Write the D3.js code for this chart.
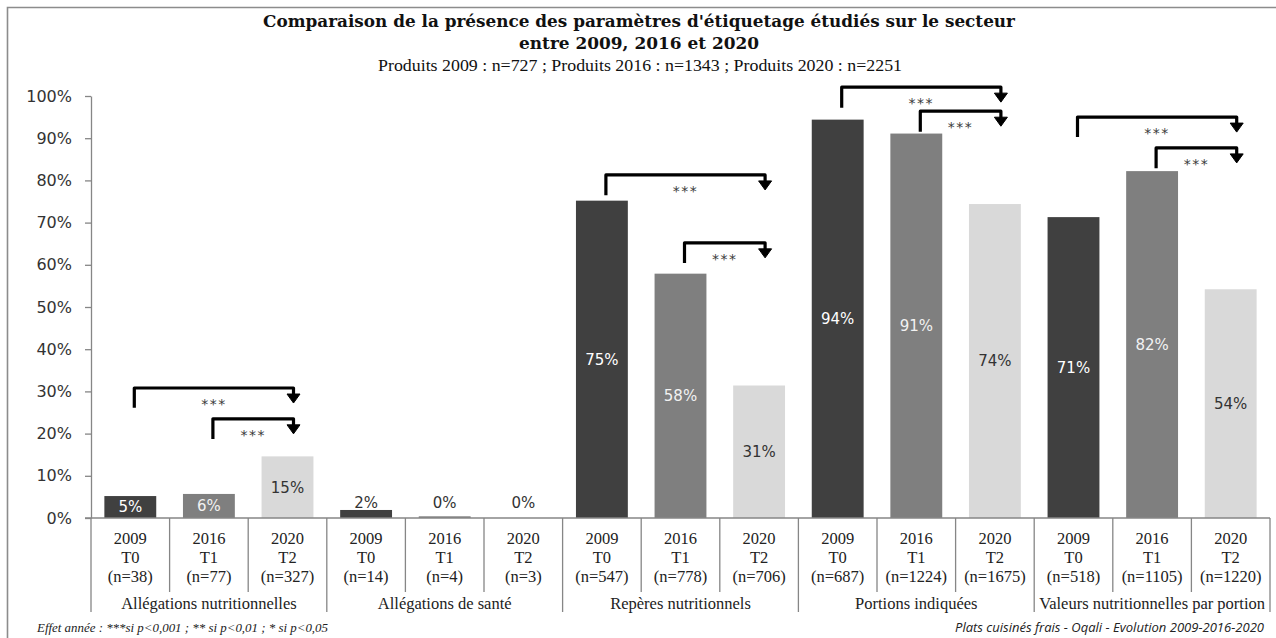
<!DOCTYPE html>
<html>
<head>
<meta charset="utf-8">
<script src="https://cdn.jsdelivr.net/npm/d3@7"></script>
<style>
  html, body { margin: 0; padding: 0; background: #fff; }
  svg { display: block; }
</style>
</head>
<body>
<svg id="chart" width="1276" height="638"></svg>
<script>
// ---------------- DATA ----------------
const groups = ["Allégations nutritionnelles", "Allégations de santé", "Repères nutritionnels", "Portions indiquées", "Valeurs nutritionnelles par portion"];
const years = ["2009", "2016", "2020"];
const periods = ["T0", "T1", "T2"];
const values2009 = [5.2, 1.9, 75.2, 94.4, 71.3];
const values2016 = [5.7, 0.4, 57.9, 91.1, 82.2];
const values2020 = [14.6, 0.0, 31.4, 74.4, 54.2];
const n2009 = [38, 14, 547, 687, 518];
const n2016 = [77, 4, 778, 1224, 1105];
const n2020 = [327, 3, 706, 1675, 1220];
const yTicks = [0, 10, 20, 30, 40, 50, 60, 70, 80, 90, 100];
// significance brackets: group index, from year index, to year index, level of the top line, level of the start foot (in %)
const bracketGroup = [0, 0, 2, 2, 3, 3, 4, 4];
const bracketFrom  = [0, 1, 0, 1, 0, 1, 0, 1];
const bracketTo    = [2, 2, 2, 2, 2, 2, 2, 2];
const bracketTop   = [30.8, 23.5, 81.3, 65.2, 102.1, 96.4, 95.0, 87.7];
const bracketBase  = [26.1, 18.7, 76.5, 60.4, 97.2, 91.5, 90.3, 82.9];
const bracketLabel = ["***", "***", "***", "***", "***", "***", "***", "***"];
const title1 = "Comparaison de la présence des paramètres d'étiquetage étudiés sur le secteur";
const title2 = "entre 2009, 2016 et 2020";
const subtitle = "Produits 2009 : n=727 ; Produits 2016 : n=1343 ; Produits 2020 : n=2251";
const noteLeft = "Effet année : ***si p<0,001 ; ** si p<0,01 ; * si p<0,05";
const noteRight = "Plats cuisinés frais - Oqali - Evolution 2009-2016-2020";

// ---------------- BUILD ----------------
(function () {
const seriesValues = [values2009, values2016, values2020];
const seriesN = [n2009, n2016, n2020];
const barColors = ["#404040", "#7f7f7f", "#d9d9d9"];
const labelColors = ["#ffffff", "#f2f2f2", "#333333"];

const rows = [];
groups.forEach((g, gi) => {
  years.forEach((yr, si) => {
    rows.push({ id: gi + "-" + si, gi, si, group: g, year: yr, period: periods[si],
      n: seriesN[si][gi], value: seriesValues[si][gi] });
  });
});

const svg = d3.select("#chart");
const serif = "'Liberation Serif', 'DejaVu Serif', serif";
const titleSerif = "'DejaVu Serif', 'Liberation Serif', serif";
const sans = "'DejaVu Sans', 'Liberation Sans', sans-serif";

const pLeft = 91, pRight = 1270, pTop = 96, pBottom = 518;

const y = d3.scaleLinear().domain([0, 100]).range([pBottom, pTop]);
const xCat = d3.scaleBand().domain(rows.map(d => d.id)).range([pLeft, pRight]).padding(0);
const xBar = d3.scaleBand().domain(rows.map(d => d.id)).range([pLeft, pRight]).paddingInner(0.34).paddingOuter(0.17);

// frame
svg.append("path").attr("d", `M7.5,640 V7.5 H1280`).attr("fill", "none").attr("stroke", "#8c8c8c").attr("stroke-width", 1.6);

// titles
svg.append("text").attr("x", 639).attr("y", 27).attr("text-anchor", "middle")
  .attr("font-family", titleSerif).attr("font-weight", "bold").attr("font-size", 16.5).attr("fill", "#111")
  .attr("textLength", 752).attr("lengthAdjust", "spacingAndGlyphs").text(title1);
svg.append("text").attr("x", 639).attr("y", 49).attr("text-anchor", "middle")
  .attr("font-family", titleSerif).attr("font-weight", "bold").attr("font-size", 16.5).attr("fill", "#111")
  .attr("textLength", 240).attr("lengthAdjust", "spacingAndGlyphs").text(title2);
svg.append("text").attr("x", 640).attr("y", 71).attr("text-anchor", "middle")
  .attr("font-family", serif).attr("font-size", 16.5).attr("fill", "#111")
  .attr("textLength", 524).attr("lengthAdjust", "spacingAndGlyphs").text(subtitle);

// y axis
const yAxis = d3.axisLeft(y).tickValues(yTicks).tickFormat(d => d + "%").tickSize(6).tickSizeOuter(0).tickPadding(13);
const gy = svg.append("g").attr("transform", `translate(${pLeft},0)`).call(yAxis);
gy.select(".domain").attr("stroke", "#868686").attr("stroke-width", 1.3);
gy.selectAll(".tick line").attr("stroke", "#868686").attr("stroke-width", 1.3);
gy.selectAll(".tick text").attr("font-family", sans).attr("font-size", 16).attr("fill", "#333");

// bars
svg.append("g").selectAll("rect").data(rows).join("rect")
  .attr("x", d => xBar(d.id)).attr("width", xBar.bandwidth())
  .attr("y", d => y(d.value)).attr("height", d => y(0) - y(d.value))
  .attr("fill", d => barColors[d.si]);

// bar labels
svg.append("g").selectAll("text").data(rows).join("text")
  .attr("x", d => xBar(d.id) + xBar.bandwidth() / 2)
  .attr("y", d => {
    const h = y(0) - y(d.value);
    return h >= 18 ? (y(d.value) + y(0)) / 2 : y(0) - 15;
  })
  .attr("dy", "0.36em").attr("text-anchor", "middle")
  .attr("font-family", sans).attr("font-size", 15)
  .attr("fill", d => (y(0) - y(d.value)) >= 18 ? labelColors[d.si] : "#333")
  .text(d => Math.round(d.value) + "%");

// x axis baseline
svg.append("line").attr("x1", pLeft - 6).attr("x2", pRight).attr("y1", pBottom).attr("y2", pBottom)
  .attr("stroke", "#868686").attr("stroke-width", 1.3);

// category separators
const bounds = d3.range(rows.length + 1);
svg.append("g").selectAll("line").data(bounds).join("line")
  .attr("x1", i => i < rows.length ? xCat(rows[i].id) : pRight)
  .attr("x2", i => i < rows.length ? xCat(rows[i].id) : pRight)
  .attr("y1", pBottom)
  .attr("y2", i => i % 3 === 0 ? 612 : 592)
  .attr("stroke", "#868686").attr("stroke-width", 1.3);

// category labels
const catG = svg.append("g").attr("font-family", serif).attr("font-size", 16.5).attr("fill", "#222").attr("text-anchor", "middle");
rows.forEach(d => {
  const cx = xCat(d.id) + xCat.bandwidth() / 2;
  catG.append("text").attr("x", cx).attr("y", 538).attr("dy", "0.35em").text(d.year);
  catG.append("text").attr("x", cx).attr("y", 557).attr("dy", "0.35em").text(d.period);
  catG.append("text").attr("x", cx).attr("y", 576).attr("dy", "0.35em").text("(n=" + d.n + ")");
});
groups.forEach((g, gi) => {
  const x0 = xCat(gi + "-0"), x1 = xCat(gi + "-2") + xCat.bandwidth();
  catG.append("text").attr("x", (x0 + x1) / 2).attr("y", 603).attr("dy", "0.35em").text(g);
});

// significance brackets
const bg = svg.append("g");
bracketGroup.forEach((gi, k) => {
  const fromId = gi + "-" + bracketFrom[k], toId = gi + "-" + bracketTo[k];
  const xs = xBar(fromId) + xBar.bandwidth() / 2 + 4;
  const xe = xBar(toId) + xBar.bandwidth() / 2 + 6;
  const yt = y(bracketTop[k]), yb = y(bracketBase[k]);
  bg.append("path").attr("d", `M${xs},${yb} V${yt} H${xe} V${yt + 8}`)
    .attr("fill", "none").attr("stroke", "#000").attr("stroke-width", 3.2).attr("stroke-linejoin", "round");
  bg.append("path").attr("d", `M${xe - 6.5},${yt + 6} L${xe + 6.5},${yt + 6} L${xe},${yt + 15} Z`)
    .attr("fill", "#000").attr("stroke", "#000").attr("stroke-width", 1).attr("stroke-linejoin", "round");
  bg.append("text").attr("x", (xs + xe) / 2).attr("y", yt + 16).attr("dy", "0.35em").attr("text-anchor", "middle")
    .attr("font-family", sans).attr("font-size", 14).attr("letter-spacing", 1.5).attr("fill", "#3a3a3a")
    .text(bracketLabel[k]);
});

// footnotes
svg.append("text").attr("x", 37).attr("y", 628).attr("dy", "0.35em")
  .attr("font-family", serif).attr("font-style", "italic").attr("font-size", 12).attr("fill", "#222")
  .attr("textLength", 291).attr("lengthAdjust", "spacingAndGlyphs").text(noteLeft);
svg.append("text").attr("x", 1264).attr("y", 628).attr("dy", "0.35em").attr("text-anchor", "end")
  .attr("font-family", "'Open Sans', 'Noto Sans', sans-serif").attr("font-style", "italic").attr("font-size", 12).attr("fill", "#222")
  .attr("textLength", 309).attr("lengthAdjust", "spacingAndGlyphs").text(noteRight);
})();
</script>
</body>
</html>
